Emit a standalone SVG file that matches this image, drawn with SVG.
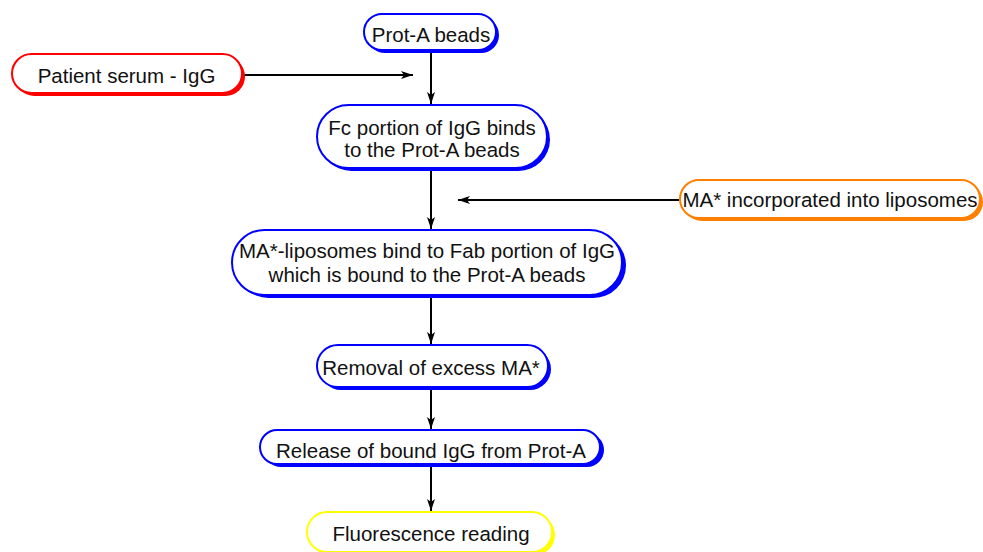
<svg xmlns="http://www.w3.org/2000/svg" width="983" height="552" viewBox="0 0 983 552">
  <style>
    .lbl { font-family: "Liberation Sans", Arial, sans-serif; font-size: 20.5px; fill: #111; text-anchor: middle; }
    .box { fill: #fff; stroke-width: 2; }
    .blue .box { stroke: #0000ff; } .blue .sh { fill: #0000ff; }
    .red .box { stroke: #ff0000; } .red .sh { fill: #ff0000; }
    .orange .box { stroke: #ff8000; } .orange .sh { fill: #ff8000; }
    .yellow .box { stroke: #ffff00; } .yellow .sh { fill: #ffff00; }
    .edge { stroke: #000; stroke-width: 2; fill: none; marker-end: url(#arrow); }
  </style>
  <defs>
    <marker id="arrow" viewBox="0 0 12 8" refX="12" refY="4" markerWidth="12" markerHeight="8" markerUnits="userSpaceOnUse" orient="auto">
      <path d="M0,0 L12,4 L0,8 L3,4 z" fill="#000"/>
    </marker>
  </defs>

  <!-- connectors -->
  <g id="connectors">
    <line class="edge" x1="431" y1="51" x2="431" y2="104"/>
    <line class="edge" x1="243" y1="75" x2="413" y2="75"/>
    <line class="edge" x1="431" y1="169" x2="431" y2="229"/>
    <line class="edge" x1="679" y1="200" x2="458" y2="200"/>
    <line class="edge" x1="431" y1="296" x2="431" y2="344"/>
    <line class="edge" x1="431" y1="388" x2="431" y2="429"/>
    <line class="edge" x1="431" y1="464" x2="431" y2="511"/>
  </g>

  <!-- process steps -->
  <g id="protA" class="blue">
    <rect class="sh" x="367" y="17" width="132" height="36" rx="18"/>
    <rect class="box" x="364" y="14" width="132" height="36" rx="18"/>
    <text class="lbl" x="431" y="42">Prot-A beads</text>
  </g>

  <g id="serum" class="red">
    <rect class="sh" x="15" y="57" width="230" height="39" rx="19.5"/>
    <rect class="box" x="12" y="54" width="230" height="39" rx="19.5"/>
    <text class="lbl" x="126.5" y="83">Patient serum - IgG</text>
  </g>

  <g id="fcBind" class="blue">
    <rect class="sh" x="320" y="108" width="230" height="63" rx="31.5"/>
    <rect class="box" x="317" y="105" width="230" height="63" rx="31.5"/>
    <text class="lbl" x="432" y="135">Fc portion of IgG binds</text>
    <text class="lbl" x="432" y="157">to the Prot-A beads</text>
  </g>

  <g id="maLipo" class="orange">
    <rect class="sh" x="683" y="183" width="300" height="38" rx="19"/>
    <rect class="box" x="680" y="180" width="300" height="38" rx="19"/>
    <text class="lbl" x="830" y="207">MA* incorporated into liposomes</text>
  </g>

  <g id="fabBind" class="blue">
    <rect class="sh" x="236" y="233" width="390" height="65" rx="32.5"/>
    <rect class="box" x="232" y="230" width="390" height="65" rx="32.5"/>
    <text class="lbl" x="427" y="258">MA*-liposomes bind to Fab portion of IgG</text>
    <text class="lbl" x="427" y="282">which is bound to the Prot-A beads</text>
  </g>

  <g id="removal" class="blue">
    <rect class="sh" x="320" y="348" width="231" height="42" rx="21"/>
    <rect class="box" x="317" y="345" width="231" height="42" rx="21"/>
    <text class="lbl" x="431" y="375">Removal of excess MA*</text>
  </g>

  <g id="release" class="blue">
    <rect class="sh" x="264" y="433" width="340" height="34" rx="17"/>
    <rect class="box" x="260" y="430" width="340" height="34" rx="17"/>
    <text class="lbl" x="431" y="458">Release of bound IgG from Prot-A</text>
  </g>

  <g id="fluor" class="yellow">
    <rect class="sh" x="310" y="515" width="245" height="40" rx="20"/>
    <rect class="box" x="307" y="512" width="245" height="40" rx="20"/>
    <text class="lbl" x="431" y="541">Fluorescence reading</text>
  </g>
</svg>
